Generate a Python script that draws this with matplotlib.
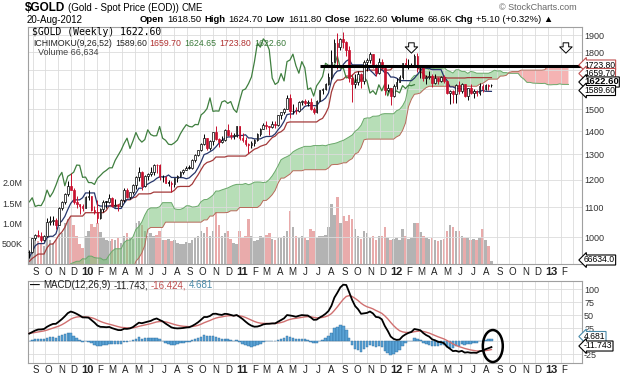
import numpy as np
import pandas as pd
import matplotlib
matplotlib.use("Agg")
import matplotlib.pyplot as plt
import matplotlib.dates as mdates
from matplotlib.patches import Ellipse
from matplotlib.ticker import NullLocator, NullFormatter
from matplotlib.transforms import blended_transform_factory

plt.rcParams['font.family'] = ['Liberation Sans', 'DejaVu Sans']

W, H = 624, 379

# weekly closes Mar 2008 - Aug 2009, only used to warm up the indicators
pre_close = [
    974, 1001, 920, 932,  914, 925, 914, 888,  853, 881, 898, 927, 887,
    900, 872, 902, 929,  932, 960, 957, 928,  912, 864, 785, 829, 833,
    798, 762, 864, 884,  829, 857, 785, 732, 722,  736, 751, 792, 813,
    752, 823, 837, 873,
    878, 855, 836, 898, 927,  914, 944, 1002, 942,  939, 930, 954, 924,
    897, 883, 871, 912,  886, 916, 929, 958, 980,  962, 937, 938, 941,
    932, 912, 937, 952, 954,  957, 947, 953,
]

# visible weekly bars, 24-Aug-2009 .. 20-Aug-2012
close = [
    955, 996, 1006, 1004, 991, 1003, 1050, 1051, 1056, 1040, 1096, 1118, 1146, 1176, 1162, 1118, 1110, 1104,
    1096, 1137, 1140, 1091, 1083, 1064, 1092, 1118, 1118, 1133, 1102, 1106, 1105,
    1124, 1161, 1136, 1153, 1179, 1210, 1228, 1177, 1213, 1220, 1229, 1257, 1256,
    1209, 1210, 1189, 1189, 1182, 1205, 1216, 1228, 1236, 1246, 1246, 1276, 1297,
    1318, 1346, 1369, 1325, 1357, 1394, 1366, 1352, 1363, 1406, 1385, 1379, 1380, 1421,
    1369, 1360, 1343, 1341, 1349, 1361, 1388, 1410, 1429, 1421, 1419, 1430,
    1429, 1474, 1486, 1504, 1556, 1491, 1493, 1492, 1536, 1542, 1529, 1538, 1501,
    1486, 1542, 1594, 1601, 1628, 1663, 1745, 1852, 1828, 1877, 1856, 1813, 1657, 1624,
    1635, 1681, 1642, 1746, 1755, 1788, 1724, 1683, 1746, 1712, 1598, 1606, 1565,
    1617, 1639, 1665, 1737, 1725, 1725, 1725, 1777, 1710, 1711, 1658, 1662, 1668,
    1631, 1660, 1642, 1663, 1642, 1580, 1592, 1573, 1622, 1591, 1626, 1566, 1604,
    1580, 1591, 1581, 1618, 1603, 1620, 1617.5, 1622.6,
]
high = [
    961, 998, 1010, 1024, 1016, 1005, 1062, 1070, 1070, 1062, 1101, 1120, 1150, 1195, 1226, 1170, 1140, 1112,
    1110, 1140, 1162, 1140, 1103, 1124, 1097, 1124, 1123, 1145, 1135, 1127, 1109,
    1129, 1167, 1170, 1155, 1183, 1213, 1249, 1232, 1217, 1226, 1251, 1262, 1261,
    1260, 1217, 1215, 1200, 1195, 1208, 1218, 1232, 1240, 1252, 1259, 1280, 1300,
    1320, 1349, 1387, 1370, 1360, 1398, 1424, 1368, 1380, 1410, 1432, 1398, 1391, 1424,
    1423, 1393, 1374, 1350, 1358, 1365, 1390, 1413, 1437, 1445, 1425, 1448,
    1446, 1476, 1487, 1509, 1569, 1575, 1525, 1510, 1539, 1546, 1552, 1546, 1557,
    1512, 1545, 1595, 1608, 1632, 1682, 1814, 1878, 1912, 1880, 1921, 1864, 1835, 1680,
    1678, 1695, 1682, 1755, 1767, 1802, 1791, 1735, 1765, 1763, 1719, 1626, 1608,
    1628, 1660, 1675, 1740, 1764, 1763, 1737, 1790, 1792, 1715, 1714, 1673, 1696,
    1681, 1678, 1662, 1667, 1673, 1645, 1597, 1596, 1626, 1641, 1631, 1628, 1605,
    1626, 1603, 1597, 1630, 1624, 1625, 1627, 1624.7,
]
low = [
    935, 951, 990, 1000, 985, 988, 1000, 1040, 1039, 1025, 1040, 1090, 1110, 1140, 1160, 1111, 1095, 1075,
    1085, 1095, 1125, 1088, 1075, 1045, 1059, 1084, 1095, 1114, 1100, 1100, 1087,
    1104, 1118, 1133, 1129, 1148, 1165, 1196, 1160, 1174, 1198, 1214, 1217, 1224,
    1198, 1191, 1186, 1177, 1155, 1174, 1192, 1212, 1221, 1236, 1240, 1240, 1270,
    1295, 1313, 1340, 1318, 1317, 1338, 1362, 1330, 1349, 1355, 1377, 1366, 1366, 1375,
    1363, 1353, 1336, 1308, 1328, 1337, 1357, 1380, 1408, 1410, 1382, 1414,
    1415, 1422, 1454, 1480, 1500, 1462, 1480, 1478, 1490, 1520, 1522, 1515, 1495,
    1478, 1482, 1540, 1577, 1596, 1622, 1654, 1743, 1703, 1810, 1823, 1775, 1636, 1535,
    1605, 1623, 1604, 1628, 1696, 1740, 1712, 1667, 1678, 1706, 1569, 1587, 1523,
    1560, 1600, 1634, 1653, 1720, 1705, 1715, 1722, 1688, 1660, 1642, 1627, 1650,
    1612, 1627, 1627, 1636, 1631, 1575, 1527, 1533, 1532, 1576, 1581, 1562, 1547,
    1574, 1554, 1567, 1571, 1584, 1598, 1598, 1611.8,
]
volume_k = [
    300, 520, 600, 560, 480, 450, 650, 600, 520, 580, 900, 760, 1000, 1100, 1150, 950, 700, 500, 400,
    700, 800, 980, 900, 1000, 780, 650, 600, 560, 620, 580, 640, 520,
    700, 760, 650, 620, 1000, 1050, 950, 800, 700, 760, 680, 720, 800,
    600, 580, 620, 560, 600, 520, 500, 480, 540, 520, 600, 640, 700,
    800, 760, 900, 700, 800, 1270, 950, 700, 760, 800, 620, 520, 480,
    800, 650, 700, 1100, 680, 560, 600, 700, 660, 720, 760, 620, 600,
    650, 640, 700, 800, 1300, 900, 700, 640, 700, 650, 600, 850, 800,
    640, 700, 680, 720, 900, 1470, 1200, 1650, 1000, 1180, 1050, 1200, 1100,
    850, 700, 620, 800, 760, 650, 700, 600, 700, 680, 900, 650, 600,
    620, 650, 600, 850, 700, 620, 650, 1000, 1000, 780, 700, 650, 620,
    640, 600, 560, 600, 620, 820, 950, 900, 820, 800, 700, 650, 640,
    600, 620, 580, 640, 850, 600, 450, 66.634,
]
last_open = 1618.50
month_letters = "JFMAMJJASOND"

pre_n = len(pre_close)
c_all = np.array(pre_close + close, dtype=float)
h_all = np.array(pre_close + high, dtype=float)
l_all = np.array(pre_close + low, dtype=float)
dates = pd.date_range(end="2012-08-20", periods=len(c_all), freq="W-MON")
x_all = mdates.date2num(dates)
x = x_all[pre_n:]

# ichimoku (9, 26, 52)
hs, ls = pd.Series(h_all), pd.Series(l_all)
def midpoint(p):
    return ((hs.rolling(p, min_periods=1).max() + ls.rolling(p, min_periods=1).min()) / 2).to_numpy()
tenkan = midpoint(9)
kijun = midpoint(26)
span_b = midpoint(52)
span_a = (tenkan + kijun) / 2
x_fwd = mdates.date2num(pd.date_range(dates[0], periods=len(dates) + 26, freq="W-MON"))[26:]

# macd (12, 26, 9)
cs = pd.Series(c_all)
macd = (cs.ewm(span=12, adjust=False).mean() - cs.ewm(span=26, adjust=False).mean()).to_numpy()
signal = pd.Series(macd).ewm(span=9, adjust=False).mean().to_numpy()
hist = macd - signal

fig = plt.figure(figsize=(W / 100, H / 100), dpi=100, facecolor="white")
renderer = fig.canvas.get_renderer()
def fx(px): return px / W
def fy(py): return 1 - py / H

def text_row(x0, y, parts, gap=3, **common):
    # lay out text pieces left to right, each one after the previous
    xpos = x0
    for t, kw in parts:
        tx = fig.text(fx(xpos), fy(y), t, va="center", **common, **kw)
        xpos += tx.get_window_extent(renderer).width + gap

ax = fig.add_axes([fx(28), fy(264), fx(554), 237 / H])
mx = fig.add_axes([fx(28), fy(363), fx(554), 82 / H], sharex=ax)

# volume behind the price panel
vax = ax.twinx()
ax.set_zorder(2)
vax.set_zorder(1)
ax.patch.set_visible(False)
cv = c_all[pre_n:]
prev = c_all[pre_n - 1:-1]
vcol = np.where(cv >= prev, "#b3b3b3", "#e9abab")
vax.bar(x, np.array(volume_k) * 1000, width=6, color=list(vcol), lw=0)
vax.set_ylim(0, 5.83e6)
vax.yaxis.tick_left()
vax.set_yticks([5e5, 1e6, 1.5e6, 2e6], ["500K", "1.0M", "1.5M", "2.0M"])
vax.tick_params(axis="y", length=0, labelsize=6.5, pad=4, colors="#333333")
for s in vax.spines.values():
    s.set_visible(False)

# ichimoku cloud and lines
ax.fill_between(x_fwd, span_a, span_b, where=span_a >= span_b, interpolate=True,
                color="#7cc47c", alpha=0.55, lw=0, zorder=1)
ax.fill_between(x_fwd, span_a, span_b, where=span_a < span_b, interpolate=True,
                color="#f29a9a", alpha=0.75, lw=0, zorder=1)
ax.plot(x_fwd, span_a, color="#6aa86a", lw=0.7, zorder=2)
ax.plot(x_fwd, span_b, color="#b86a5a", lw=0.7, zorder=2)
ax.plot(x_all, kijun, color="#a33a3a", lw=0.9, zorder=2)
ax.plot(x_all, tenkan, color="#25356b", lw=0.9, zorder=2)
ax.plot(x_all[:-26], c_all[26:], color="#3f7f3f", lw=0.9, zorder=2)

# candles
opn = prev.copy()
opn[-1] = last_open
hi = np.array(high, dtype=float)
lo = np.array(low, dtype=float)
col = np.where(cv >= prev, "black", "#c8102e")
face = np.where(cv > opn, "white", col)
ax.vlines(x, lo, hi, colors=list(col), lw=0.7, zorder=4)
ax.bar(x, np.maximum(np.abs(cv - opn), 2), bottom=np.minimum(cv, opn), width=4,
       color=list(face), edgecolor=list(col), lw=0.5, zorder=5)

ax.hlines(1723.8, mdates.date2num(pd.Timestamp("2011-07-11")), mdates.date2num(pd.Timestamp("2013-03-22")),
          color="black", lw=2.2, zorder=6)
for d in ["2012-02-13", "2013-02-12"]:
    xd = mdates.date2num(pd.Timestamp(d))
    ax.annotate("", xy=(xd, 0.878), xytext=(xd, 0.945), xycoords=("data", "axes fraction"),
                textcoords=("data", "axes fraction"),
                arrowprops=dict(arrowstyle="simple,head_length=0.45,head_width=0.9,tail_width=0.4",
                                fc="white", ec="black", lw=0.7), zorder=7)

ax.set_yscale("log")
ax.set_ylim(918, 1949)
ax.set_xlim(mdates.date2num(pd.Timestamp("2009-08-21")), mdates.date2num(pd.Timestamp("2013-03-22")))
levels = [1000, 1100, 1200, 1300, 1400, 1500, 1600, 1700, 1800, 1900]
ax.yaxis.tick_right()
ax.set_yticks(levels, [str(v) if v not in (1600, 1700) else "" for v in levels])
ax.yaxis.set_minor_locator(NullLocator())
ax.yaxis.set_minor_formatter(NullFormatter())
ax.tick_params(axis="y", length=0, labelsize=6.5, pad=1.5, colors="#333333")
ax.xaxis.set_major_locator(mdates.MonthLocator())
ax.tick_params(axis="x", length=0, labelbottom=False)
ax.grid(True, color="#dcdcdc", lw=0.6, zorder=0)

# macd panel
mx.bar(x, hist[pre_n:], width=6, color="#5aa3d6", edgecolor="#2e6d9e", lw=0.3, zorder=2)
mx.plot(x, signal[pre_n:], color="#d07070", lw=1, zorder=3)
mx.plot(x, macd[pre_n:], color="black", lw=1.3, zorder=4)
mx.set_ylim(-42.3, 115.4)
mx.yaxis.tick_right()
mx.set_yticks([-25, 0, 25, 50, 75, 100], ["-25", "", "25", "50", "75", "100"])
mx.tick_params(axis="y", length=0, labelsize=6.5, pad=1.5, colors="#333333")
mx.tick_params(axis="x", length=0, labelbottom=False)
mx.grid(True, color="#dcdcdc", lw=0.6, zorder=0)
mx.add_patch(Ellipse((0.839, 0.207), 0.036, 0.39, transform=mx.transAxes, fill=False,
                     ec="black", lw=1.8, clip_on=False, zorder=6))

for a in (ax, mx):
    for s in a.spines.values():
        s.set_color("#a0a0a0")
        s.set_linewidth(0.8)

# month labels under both panels
months = pd.date_range("2009-09-01", "2013-02-01", freq="MS")
for m in months:
    xm = mdates.date2num(m + pd.Timedelta(days=7))
    if m.month == 1:
        txt, kw = f"{m.year % 100:02d}", dict(fontweight="bold", fontsize=8)
    else:
        txt, kw = month_letters[m.month - 1], dict(fontsize=7)
    for a, yy in ((ax, -0.034), (mx, -0.085)):
        a.text(xm, yy, txt, transform=blended_transform_factory(a.transData, a.transAxes),
               ha="center", va="center", color="#222222", **kw)

# header
fig.text(fx(25), fy(8), "$GOLD", fontsize=8.5, fontweight="bold", va="center")
fig.text(fx(68), fy(8), "(Gold - Spot Price (EOD))", fontsize=7, va="center")
fig.text(fx(182), fy(8), "CME", fontsize=7, va="center")
fig.text(fx(577), fy(7), "\u00a9 StockCharts.com", fontsize=6.5, color="#666666", ha="right", va="center")
fig.text(fx(27), fy(20), "20-Aug-2012", fontsize=7, va="center")
bold = dict(fontweight="bold")
plain = dict()
text_row(140, 20, [("Open", bold), ("1618.50", plain), ("High", bold), ("1624.70", plain),
                   ("Low", bold), ("1611.80", plain), ("Close", bold), ("1622.60", plain),
                   ("Volume", bold), ("66.6K", plain), ("Chg", bold), ("+5.10 (+0.32%) \u25b2", plain)],
         gap=3, fontsize=6.8)

# panel legends
fig.text(fx(32), fy(32), "$GOLD (Weekly) 1622.60", fontsize=7, family="DejaVu Sans Mono", va="center")
text_row(33, 43, [("ICHIMOKU(9,26,52)", dict(color="#222222")), ("1589.60", dict(color="#222222")),
                  ("1659.70", dict(color="#b03030")), ("1624.65", dict(color="#3a7a3a")),
                  ("1723.80", dict(color="#b03030")), ("1622.60", dict(color="#3a7a3a"))],
         gap=3, fontsize=6.3)
fig.text(fx(38), fy(52), "Volume 66,634", fontsize=6.5, color="#444444", va="center")

text_row(30, 285.5, [("\u2014", dict(color="black", fontweight="bold")), ("MACD(12,26,9)", dict(color="#222222")),
                     ("-11.743,", dict(color="#222222")), ("-16.424,", dict(color="#c05050")),
                     ("4.681", dict(color="#4a8aa8"))],
         gap=3, fontsize=7)

# value tags on the right
tags = [(65, "1723.80", "#c05050", False), (73.5, "1659.70", "#c05050", False),
        (82, "1622.60", "black", True), (90.5, "1589.60", "black", False),
        (260, "66634.0", "black", False), (336.5, "4.681", "#4a8aa8", False),
        (346, "-11.743", "black", False)]
for py, t, ec, b in tags:
    fig.text(fx(584), fy(py), t, fontsize=6.8 if b else 6.2, fontweight="bold" if b else "normal",
             va="center", ha="left",
             bbox=dict(boxstyle="larrow,pad=0.06", fc="white", ec=ec, lw=0.8))

fig.savefig("out.png", dpi=100)
